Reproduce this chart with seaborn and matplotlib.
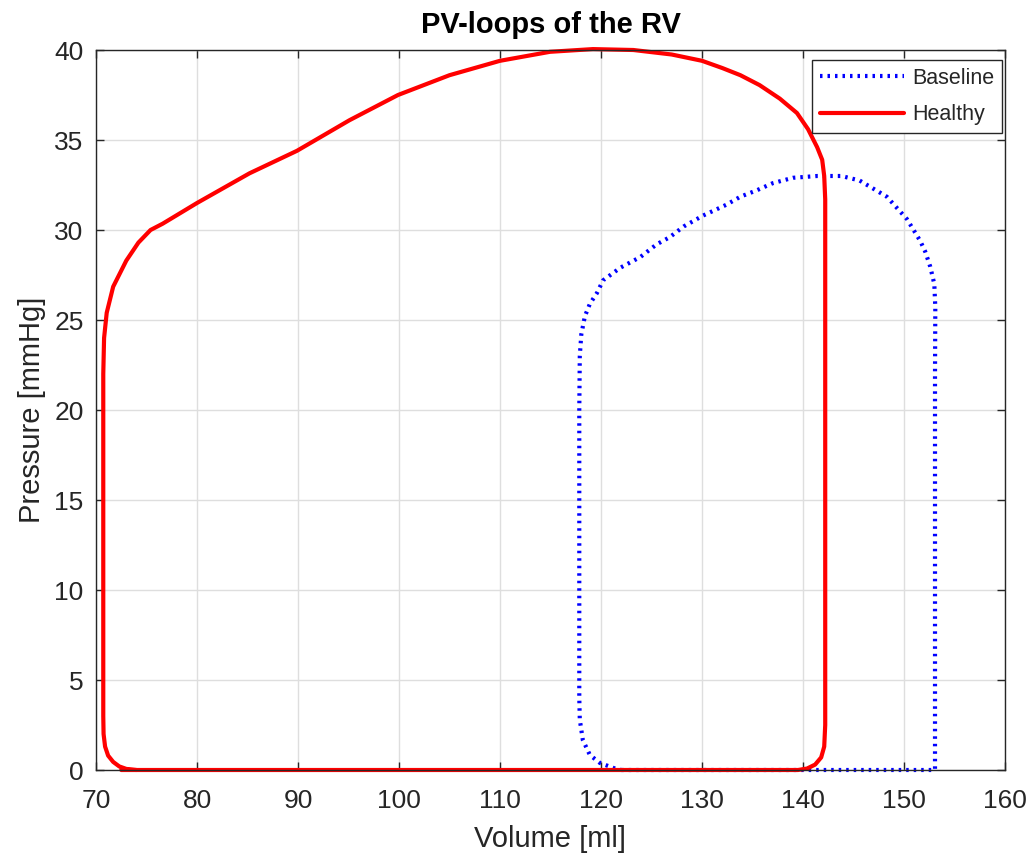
import matplotlib
matplotlib.use("Agg")
import matplotlib.pyplot as plt
import seaborn as sns
import pandas as pd

# ---- Data ----
healthy_volume = [72.5, 80.0, 100.0, 120.0, 139.5, 140.4, 141.2, 141.8, 142.1, 142.2,
                  142.2, 142.2, 142.2, 142.2, 142.1, 141.9, 141.4, 140.5, 139.4, 137.7,
                  135.7, 133.8, 132.0, 130.0, 127.0, 123.2, 119.2, 114.95, 110.0, 105.0,
                  99.9, 95.1, 89.9, 85.2, 80.0, 76.6, 75.4, 74.2, 73.0, 71.7,
                  71.06, 70.8, 70.72, 70.72, 70.72, 70.75, 70.9, 71.2, 71.7, 72.3,
                  73.0, 74.0]
healthy_pressure = [0.0, 0.0, 0.0, 0.0, 0.0, 0.08, 0.3, 0.7, 1.3, 2.5,
                    10.0, 20.0, 28.0, 31.7, 33.0, 33.9, 34.6, 35.6, 36.5, 37.3,
                    38.05, 38.6, 39.0, 39.4, 39.75, 40.0, 40.05, 39.9, 39.4, 38.6,
                    37.5, 36.1, 34.4, 33.15, 31.5, 30.35, 30.0, 29.3, 28.3, 26.85,
                    25.4, 24.0, 22.0, 10.0, 3.0, 2.0, 1.3, 0.8, 0.45, 0.2,
                    0.06, 0.0]

baseline_volume = [122.0, 130.0, 140.0, 150.0, 153.07, 153.07, 153.07, 153.07, 153.1,
                   153.0, 152.6, 152.1, 151.6, 150.3, 148.3, 145.6, 143.8, 142.7,
                   141.4, 139.0, 137.0, 135.4, 133.8, 132.4, 130.1, 128.2, 126.8,
                   125.5, 123.9, 121.9, 120.2, 119.6, 118.9, 118.4, 118.05, 117.9,
                   117.85, 117.85, 117.85, 117.9, 118.2, 118.9, 119.9, 121.4, 122.0]
baseline_pressure = [0.0, 0.0, 0.0, 0.0, 0.0, 5.0, 15.0, 22.0, 25.7,
                     27.0, 27.96, 28.8, 29.4, 30.6, 31.85, 32.75, 33.0, 33.0,
                     33.0, 32.9, 32.6, 32.2, 31.85, 31.4, 30.8, 30.2, 29.6,
                     29.2, 28.5, 27.9, 27.2, 26.5, 25.9, 25.2, 24.2, 23.0,
                     20.0, 10.0, 4.0, 2.8, 1.67, 0.83, 0.39, 0.08, 0.0]

series_names = ["Baseline", "Healthy"]
x_ticks = [70, 80, 90, 100, 110, 120, 130, 140, 150, 160]
y_ticks = [0, 5, 10, 15, 20, 25, 30, 35, 40]

df_base = pd.DataFrame({"Volume": baseline_volume, "Pressure": baseline_pressure})
df_healthy = pd.DataFrame({"Volume": healthy_volume, "Pressure": healthy_pressure})

sns.set_theme(style="whitegrid")
plt.rcParams["font.family"] = ["Liberation Sans", "DejaVu Sans"]

fig = plt.figure(figsize=(10.35, 8.65), dpi=100)
ax = fig.add_axes([96 / 1035, 95 / 865, 909 / 1035, 720 / 865])
ax.set_facecolor("white")

sns.lineplot(data=df_base, x="Volume", y="Pressure", sort=False, estimator=None,
             color="#0000ff", linewidth=3.0, linestyle=(0, (0.6, 1.2)),
             label=series_names[0], ax=ax)
sns.lineplot(data=df_healthy, x="Volume", y="Pressure", sort=False, estimator=None,
             color="#ff0000", linewidth=3.0, linestyle="-",
             label=series_names[1], ax=ax)
for ln in ax.lines:
    ln.set_clip_on(False)
    ln.set_solid_joinstyle("round")
    ln.set_solid_capstyle("round")

ax.set_xlim(70, 160)
ax.set_ylim(0, 40)
ax.set_xticks(x_ticks)
ax.set_yticks(y_ticks)

ax.grid(True, color="#dedede", linewidth=1.0)
ax.set_axisbelow(True)
for s in ax.spines.values():
    s.set_visible(True)
    s.set_color("#262626")
    s.set_linewidth(1.0)
ax.tick_params(axis="both", which="both", direction="in", length=6, width=1.0,
               color="#262626", labelcolor="#262626", labelsize=19,
               top=True, right=True, bottom=True, left=True)
ax.tick_params(axis="x", pad=14)
ax.tick_params(axis="y", pad=9)

ax.set_xlabel("Volume [ml]", fontsize=21, color="#262626", labelpad=8)
ax.set_ylabel("Pressure [mmHg]", fontsize=21, color="#262626", labelpad=6)
ax.set_title("PV-loops of the RV", fontsize=21, fontweight="bold", color="black", pad=12)

leg = ax.legend(loc="upper right", bbox_to_anchor=(1 - 3 / 909, 1 - 10 / 720),
                borderaxespad=0.0, fontsize=15.5, frameon=True, fancybox=False,
                handlelength=3.9, handletextpad=0.4, borderpad=0.35,
                labelspacing=0.72)
leg.get_frame().set_edgecolor("#262626")
leg.get_frame().set_linewidth(1.0)
leg.get_frame().set_alpha(1.0)

fig.savefig("out.png", dpi=100)
